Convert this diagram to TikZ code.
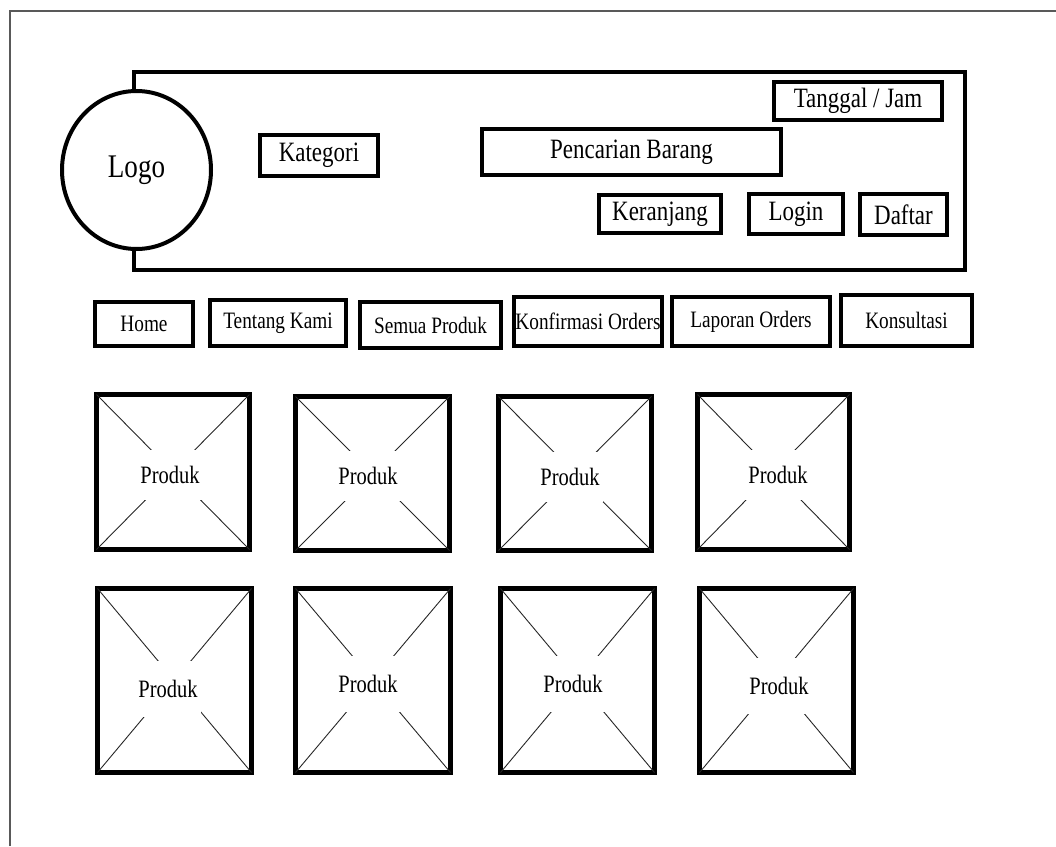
\documentclass[tikz,border=0pt]{standalone}
\usepackage{fontspec}
\setmainfont{Liberation Serif}[FakeStretch=0.82]
\usetikzlibrary{shapes.geometric}

\begin{document}
\begin{tikzpicture}[
        x=1pt, y=-1pt,
        every node/.style={inner sep=0pt, outer sep=0pt},
        box/.style={
            draw,
            line width=4pt,
            fill=white,
            align=center
        },
        headbox/.style={
            box,
            font=\fontsize{28}{30}\selectfont
        },
        menu/.style={
            box,
            font=\fontsize{23.5}{26}\selectfont
        },
        produk/.style={
            draw,
            line width=5pt
        },
        caption/.style={
            fill=white,
            minimum width=66pt,
            minimum height=50pt,
            font=\fontsize{25}{27}\selectfont
        },
        cross/.style={line width=0.9pt, draw=black!85},
        frame/.style={line width=1.5pt, draw=black!65}
    ]
        \useasboundingbox (0,0) rectangle (1056,846);

        % Page border
        \draw[frame] (10,846) -- (10,11) -- (1056,11);

        % Header bar
        \node[draw, line width=4pt, minimum width=831pt,
            minimum height=198pt] (header) at (549.5,171) {};
        \node[box, ellipse, minimum width=149pt, minimum height=158pt,
            font=\fontsize{33}{36}\selectfont] (logo) at (136.5,170) {Logo};

        \node[headbox, minimum width=118pt, minimum height=41pt]
            (kategori) at (319,155.5) {Kategori};
        \node[headbox, minimum width=299pt, minimum height=46pt]
            (cari) at (631.5,152) {Pencarian Barang};
        \node[headbox, minimum width=168pt, minimum height=38pt]
            (tanggal) at (858,101) {Tanggal / Jam};
        \node[headbox, minimum width=122pt, minimum height=38pt]
            (keranjang) at (660,214) {Keranjang};
        \node[headbox, minimum width=94pt, minimum height=40pt]
            (login) at (796,214) {Login};
        \node[headbox, minimum width=87pt, minimum height=41pt]
            (daftar) at (903.5,214.5) {Daftar};

        % Menu row
        \node[menu, minimum width=98pt, minimum height=44pt]
            (home) at (144,324) {Home};
        \node[menu, minimum width=136pt, minimum height=46pt]
            (tentang) at (278,323) {Tentang Kami};
        \node[menu, minimum width=141pt, minimum height=46pt]
            (semua) at (430.5,325) {Semua Produk};
        \node[menu, minimum width=148pt, minimum height=49pt]
            (konfirmasi) at (588,321.5) {Konfirmasi Orders};
        \node[menu, minimum width=158pt, minimum height=49pt]
            (laporan) at (751,321.5) {Laporan Orders};
        \node[menu, minimum width=131pt, minimum height=51pt]
            (konsultasi) at (906.5,320.5) {Konsultasi};

        % Product grid
        \node[produk, minimum width=153pt, minimum height=155pt]
            (p1) at (173,472) {};
        \node[produk, minimum width=154pt, minimum height=154pt]
            (p2) at (372.5,473.5) {};
        \node[produk, minimum width=153pt, minimum height=154pt]
            (p3) at (575,473.5) {};
        \node[produk, minimum width=152pt, minimum height=155pt]
            (p4) at (773.5,472) {};
        \node[produk, minimum width=154pt, minimum height=184pt]
            (p5) at (174.5,680.5) {};
        \node[produk, minimum width=155pt, minimum height=184pt]
            (p6) at (373,680.5) {};
        \node[produk, minimum width=154pt, minimum height=184pt]
            (p7) at (577.5,680.5) {};
        \node[produk, minimum width=154pt, minimum height=184pt]
            (p8) at (776.5,680.5) {};

        \foreach \p in {p1,p2,p3,p4,p5,p6,p7,p8}
            \draw[cross] (\p.north west) -- (\p.south east)
                (\p.north east) -- (\p.south west);

        \node[caption] (c1) at (170,475) {Produk};
        \node[caption] (c2) at (368,476) {Produk};
        \node[caption] (c3) at (570,477) {Produk};
        \node[caption] (c4) at (778,475) {Produk};
        \node[caption, minimum height=56pt] (c5) at (168,689) {Produk};
        \node[caption, minimum height=56pt] (c6) at (368,684) {Produk};
        \node[caption, minimum height=56pt] (c7) at (573,684) {Produk};
        \node[caption, minimum height=56pt] (c8) at (779,686) {Produk};
    \end{tikzpicture}
\end{document}
